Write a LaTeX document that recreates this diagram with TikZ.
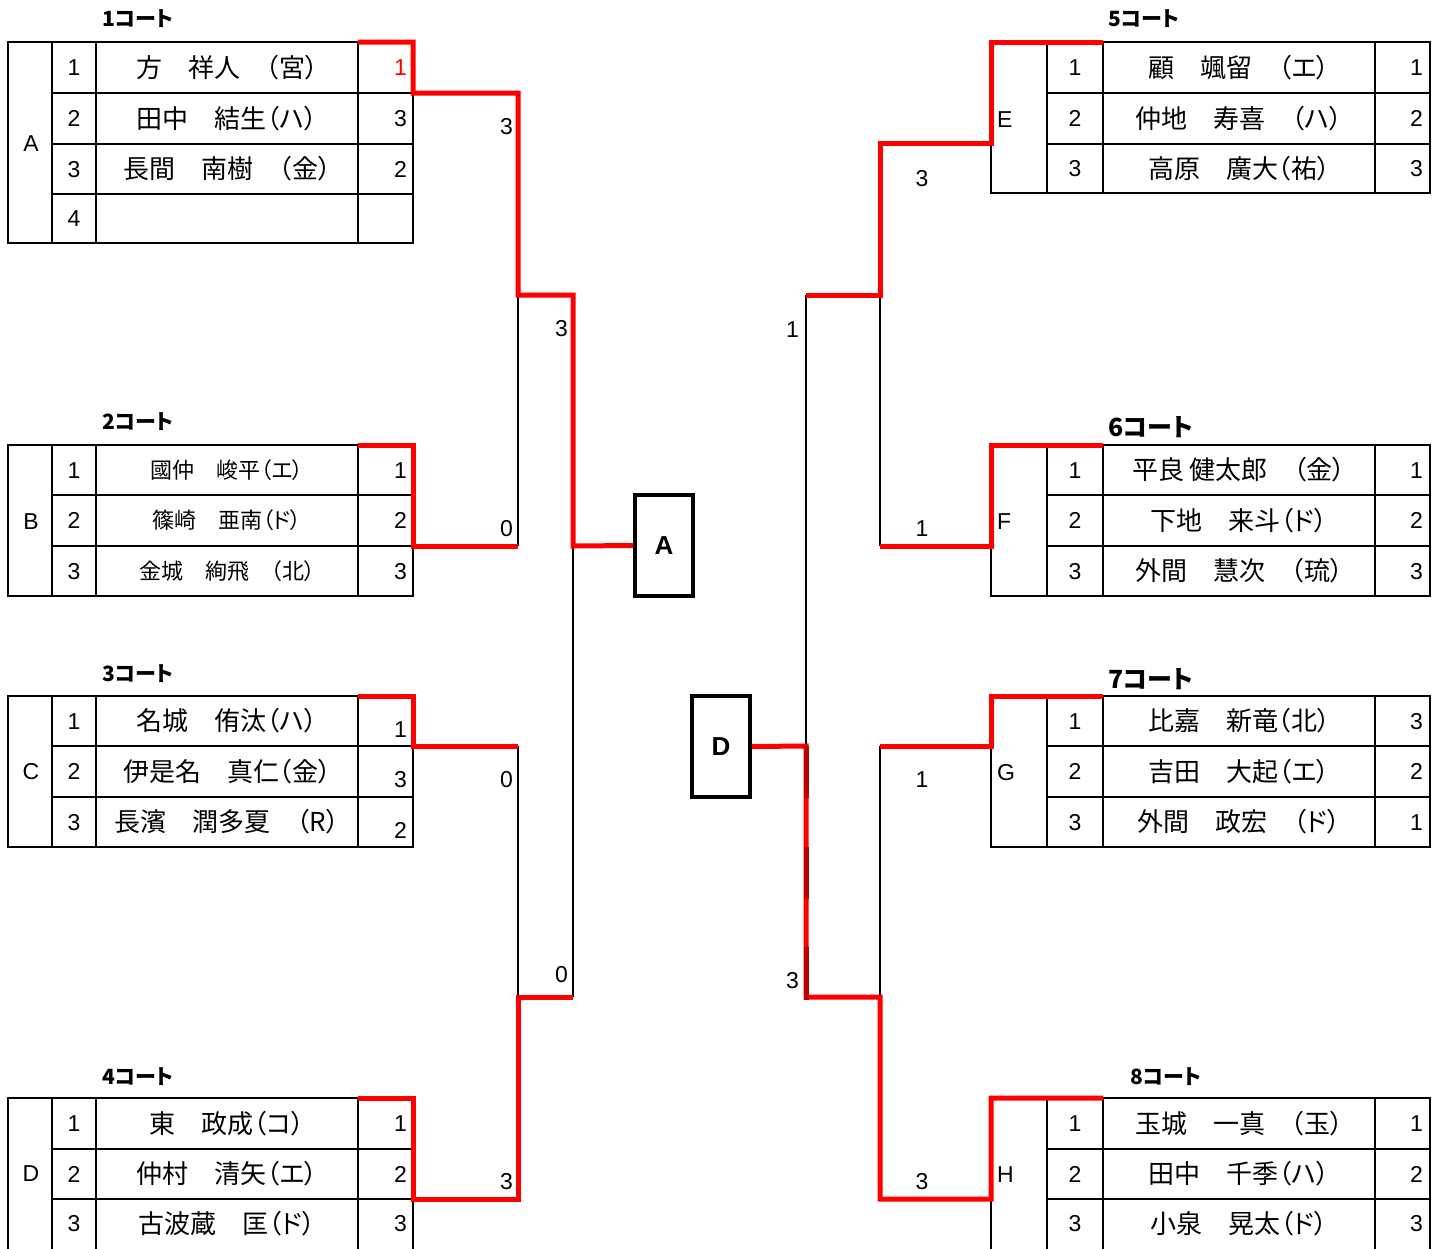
\documentclass[tikz,border=0pt]{standalone}
\usepackage{fontspec}
\setmainfont{Liberation Sans}
\newfontfamily\jp{Noto Sans CJK JP}[RawFeature=+palt]
\newcommand{\LRow}[6][]{%
  \node[num] (#2n) at (74,#3) {#4};
  \node[nm,#1] (#2m) at (227,#3) {#5};
  \node[sc] (#2s) at (407,#3) {#6};}
\newcommand{\RRow}[6][]{%
  \node[num] (#2n) at (1075,#3) {#4};
  \node[nm,#1] (#2m) at (1239,#3) {#5};
  \node[sc] (#2s) at (1423,#3) {#6};}
\begin{document}
\begin{tikzpicture}[x=1pt,y=-1pt,
  grid/.style={line width=1.8pt,black},
  win/.style={line width=5pt,red,line join=miter},
  lose/.style={line width=1.5pt,black},
  dwin/.style={line width=5pt,red!75!black},
  nm/.style={font=\jp\fontsize{26}{26}\selectfont,inner sep=0pt,text height=19.8pt,text depth=0pt},
  nmS/.style={font=\jp\fontsize{22}{22}\selectfont,text height=16.7pt},
  num/.style={font=\fontsize{23}{23}\selectfont,inner sep=0pt,text height=16.5pt,text depth=0pt},
  sc/.style={num,anchor=east},
  lt/.style={num,anchor=west},
  ttl/.style={font=\jp\bfseries\fontsize{21}{21}\selectfont,inner sep=0pt,anchor=west,text height=16pt,text depth=0pt},
  ttlL/.style={ttl,font=\jp\bfseries\fontsize{25}{25}\selectfont,text height=19pt},
  fbox/.style={draw,line width=3.5pt},
  blab/.style={font=\bfseries\fontsize{26}{26}\selectfont,inner sep=0pt,text height=18.6pt,text depth=0pt}]
\useasboundingbox (0,0) rectangle (1440,1248);
\fill[white] (0,0) rectangle (1440,1248);

% ---------- left tables ----------
\draw[grid] (8,42) rectangle (413,243);
\draw[grid] (52,42)--(52,243) (96,42)--(96,243) (358,42)--(358,243);
\draw[grid] (52,93)--(413,93) (52,144)--(413,144) (52,194)--(413,194);
\draw[grid] (8,445) rectangle (413,596);
\draw[grid] (52,445)--(52,596) (96,445)--(96,596) (358,445)--(358,596);
\draw[grid] (52,495)--(413,495) (52,546)--(413,546);
\draw[grid] (8,696) rectangle (413,847);
\draw[grid] (52,696)--(52,847) (96,696)--(96,847) (358,696)--(358,847);
\draw[grid] (52,746)--(413,746) (52,797)--(413,797);
\draw[grid] (8,1250)--(8,1098)--(413,1098)--(413,1250);
\draw[grid] (52,1098)--(52,1250) (96,1098)--(96,1250) (358,1098)--(358,1250);
\draw[grid] (52,1149)--(413,1149) (52,1199)--(413,1199);

% ---------- right tables ----------
\draw[grid] (991,42) rectangle (1430,193);
\draw[grid] (1047,42)--(1047,193) (1103,42)--(1103,193) (1375,42)--(1375,193);
\draw[grid] (1047,93)--(1430,93) (1047,144)--(1430,144);
\draw[grid] (991,445) rectangle (1430,596);
\draw[grid] (1047,445)--(1047,596) (1103,445)--(1103,596) (1375,445)--(1375,596);
\draw[grid] (1047,495)--(1430,495) (1047,546)--(1430,546);
\draw[grid] (991,696) rectangle (1430,847);
\draw[grid] (1047,696)--(1047,847) (1103,696)--(1103,847) (1375,696)--(1375,847);
\draw[grid] (1047,746)--(1430,746) (1047,797)--(1430,797);
\draw[grid] (991,1250)--(991,1098)--(1430,1098)--(1430,1250);
\draw[grid] (1047,1098)--(1047,1250) (1103,1098)--(1103,1250) (1375,1098)--(1375,1250);
\draw[grid] (1047,1149)--(1430,1149) (1047,1199)--(1430,1199);

% ---------- titles ----------
\node[ttl] (t1) at (102,18) {1コート};
\node[ttl] (t2) at (102,421) {2コート};
\node[ttl] (t3) at (102,673) {3コート};
\node[ttl] (t4) at (102,1076) {4コート};
\node[ttl] (t5) at (1108,18) {5コート};
\node[ttlL] (t6) at (1108,427) {6コート};
\node[ttlL] (t7) at (1108,679) {7コート};
\node[ttl] (t8) at (1130,1076) {8コート};

% ---------- group letters ----------
\node[num] (gA) at (31,143) {A};
\node[num] (gB) at (31,521) {B};
\node[num] (gC) at (31,771) {C};
\node[num] (gD) at (31,1173) {D};
\node[lt] (gE) at (997,119) {E};
\node[lt] (gF) at (997,521) {F};
\node[lt] (gG) at (997,772) {G};
\node[lt] (gH) at (997,1174) {H};

% ---------- rows ----------
\LRow{a1}{67.5}{1}{方　祥人　（宮）}{\textcolor{red}{1}}
\LRow{a2}{118.5}{2}{田中　結生（ハ）}{3}
\LRow{a3}{169}{3}{長間　南樹　（金）}{2}
\LRow{a4}{218.5}{4}{}{}
\LRow[nmS]{b1}{470}{1}{國仲　峻平（エ）}{1}
\LRow[nmS]{b2}{520.5}{2}{篠崎　亜南（ド）}{2}
\LRow[nmS]{b3}{571}{3}{金城　絢飛　（北）}{3}
\node[num] (c1n) at (74,721) {1};
\node[nm] (c1m) at (227,721) {名城　侑汰（ハ）};
\node[sc] (c1s) at (407,729) {1};
\node[num] (c2n) at (74,771.5) {2};
\node[nm] (c2m) at (227,771.5) {伊是名　真仁（金）};
\node[sc] (c2s) at (407,779) {3};
\node[num] (c3n) at (74,822) {3};
\node[nm] (c3m) at (227,822) {長濱　潤多夏　（R）};
\node[sc] (c3s) at (407,830) {2};
\LRow{d1}{1123.5}{1}{東　政成（コ）}{1}
\LRow{d2}{1174}{2}{仲村　清矢（エ）}{2}
\LRow{d3}{1223.5}{3}{古波蔵　匡（ド）}{3}

\RRow{e1}{67.5}{1}{顧　颯留　（エ）}{1}
\RRow{e2}{118.5}{2}{仲地　寿喜　（ハ）}{2}
\RRow{e3}{168.5}{3}{高原　廣大（祐）}{3}
\RRow{f1}{470}{1}{平良 健太郎　（金）}{1}
\RRow{f2}{520.5}{2}{下地　来斗（ド）}{2}
\RRow{f3}{571}{3}{外間　慧次　（琉）}{3}
\RRow{g1}{721}{1}{比嘉　新竜（北）}{3}
\RRow{g2}{771.5}{2}{吉田　大起（エ）}{2}
\RRow{g3}{822}{3}{外間　政宏　（ド）}{1}
\RRow{h1}{1123.5}{1}{玉城　一真　（玉）}{1}
\RRow{h2}{1174}{2}{田中　千季（ハ）}{2}
\RRow{h3}{1223.5}{3}{小泉　晃太（ド）}{3}

% ---------- final boxes ----------
\node[fbox,minimum width=58pt,minimum height=101pt,inner sep=0pt] (boxA) at (664,545.5) {};
\node[blab] (boxAl) at (boxA.center) {A};
\node[fbox,minimum width=58pt,minimum height=101pt,inner sep=0pt] (boxD) at (721,746.5) {};
\node[blab] (boxDl) at (boxD.center) {D};

% ---------- bracket coordinates ----------
\coordinate (LA0) at (358,42);  \coordinate (LA1) at (413,42);  \coordinate (LA2) at (413,93);
\coordinate (L1a) at (518,93);  \coordinate (L1b) at (518,295); \coordinate (L2a) at (573,295);
\coordinate (L2b) at (573,546);
\coordinate (LB0) at (358,445); \coordinate (LB1) at (413,445); \coordinate (LB2) at (413,546);
\coordinate (L1c) at (518,546);
\coordinate (LC0) at (358,696); \coordinate (LC1) at (413,696); \coordinate (LC2) at (413,746);
\coordinate (L1d) at (518,746); \coordinate (L1e) at (518,997);
\coordinate (LD0) at (358,1098);\coordinate (LD1) at (413,1098);\coordinate (LD2) at (413,1199);
\coordinate (L1f) at (518,1199);\coordinate (L2c) at (573,997);

\coordinate (RE0) at (1103,42); \coordinate (RE1) at (991,42); \coordinate (RE2) at (991,143);
\coordinate (R1a) at (880,143); \coordinate (R1b) at (880,295); \coordinate (R2a) at (806,295);
\coordinate (R1c) at (880,546);
\coordinate (RF0) at (1103,445);\coordinate (RF1) at (991,445); \coordinate (RF2) at (991,546);
\coordinate (RG0) at (1103,696);\coordinate (RG1) at (991,696); \coordinate (RG2) at (991,746);
\coordinate (R1d) at (880,746); \coordinate (R1e) at (880,997);
\coordinate (RH0) at (1103,1098);\coordinate (RH1) at (991,1098);\coordinate (RH2) at (991,1199);
\coordinate (R1f) at (880,1199);\coordinate (R2b) at (806,997); \coordinate (R2c) at (806,746);

% losers (thin)
\draw[lose] (L1c)--(L1b);
\draw[lose] (L1d)--(L1e);
\draw[lose] (L2c)--(L2b);
\draw[lose] (R1b)--(R1c);
\draw[lose] (R1d)--(R1e);
\draw[lose] (R2a)--(R2c);

% winners (red)
\draw[win] (LA0)--(LA1)--(LA2)--(L1a)--(L1b)--(L2a)--(L2b)--(boxA.west);
\draw[win] (LB0)--(LB1)--(LB2)--(L1c);
\draw[win] (LC0)--(LC1)--(LC2)--(L1d);
\draw[win] (LD0)--(LD1)--(LD2)--(L1f)--(L1e)--(L2c);
\draw[win] (RE0)--(RE1)--(RE2)--(R1a)--(R1b)--(R2a);
\draw[win] (RF0)--(RF1)--(RF2)--(R1c);
\draw[win] (RG0)--(RG1)--(RG2)--(R1d);
\draw[win] (RH0)--(RH1)--(RH2)--(R1f)--(R1e)--(R2b)--(R2c)--(boxD.east);
\draw[dwin] (806,746)--(806,798) (806,847)--(806,899) (806,947)--(806,999.5);

% ---------- match scores ----------
\node[sc] (s1) at (513,126) {3};
\node[sc] (s2) at (568,328) {3};
\node[sc] (s3) at (513,528) {0};
\node[sc] (s4) at (513,779) {0};
\node[sc] (s5) at (568,974) {0};
\node[sc] (s6) at (513,1181) {3};
\node[num] (s7) at (922,178) {3};
\node[sc] (s8) at (799,329) {1};
\node[num] (s9) at (922,528) {1};
\node[num] (s10) at (922,779) {1};
\node[sc] (s11) at (799,980) {3};
\node[num] (s12) at (922,1181) {3};
\end{tikzpicture}
\end{document}
